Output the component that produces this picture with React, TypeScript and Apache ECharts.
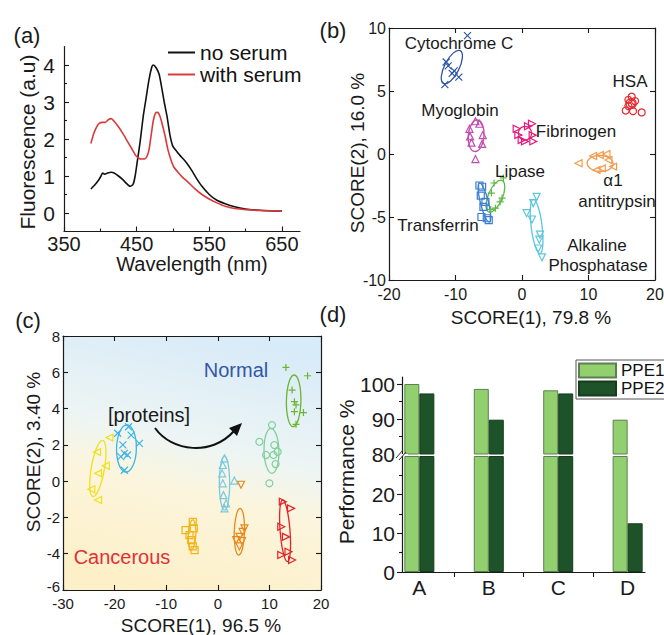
import React, { useEffect, useRef } from 'react';
import * as echarts from 'echarts';

const FONT = '"Liberation Sans", Arial, Helvetica, sans-serif';
const INK = '#1a1a1a';

// ---------------- (a) fluorescence spectra ----------------
const noSerum: number[][] = [
  [387, 0.65], [392, 0.75], [398, 0.9], [401, 1.0], [403, 1.08], [406, 1.05], [410, 1.08], [415, 1.1],
  [419, 1.08], [425, 1.0], [431, 0.9], [437, 0.78], [441, 0.72], [445, 0.77], [448, 1.0], [451, 1.4],
  [455, 1.95], [459, 2.6], [463, 3.1], [467, 3.6], [471, 3.95], [473, 4.0], [477, 3.92], [481, 3.75],
  [484, 3.45], [488, 3.0], [492, 2.6], [496, 2.1], [500, 1.8], [505, 1.67], [510, 1.55], [517, 1.4],
  [525, 1.18], [532, 0.95], [540, 0.72], [550, 0.5], [560, 0.35], [572, 0.25], [585, 0.17], [600, 0.11],
  [615, 0.08], [630, 0.06], [650, 0.05],
];
const withSerum: number[][] = [
  [387, 1.88], [391, 2.15], [395, 2.33], [399, 2.43], [403, 2.45], [407, 2.45], [411, 2.52], [415, 2.55],
  [419, 2.48], [425, 2.33], [431, 2.15], [437, 1.95], [443, 1.75], [449, 1.55], [453, 1.48], [457, 1.46],
  [461, 1.46], [464, 1.52], [467, 1.7], [470, 2.1], [473, 2.5], [476, 2.7], [479, 2.72], [482, 2.62],
  [485, 2.42], [489, 2.1], [493, 1.72], [497, 1.45], [501, 1.25], [507, 1.1], [513, 0.97], [520, 0.85],
  [530, 0.66], [540, 0.5], [550, 0.38], [560, 0.28], [572, 0.18], [585, 0.12], [600, 0.09], [620, 0.07],
  [650, 0.05],
];
const wavelengthTicks = [350, 450, 550, 650];
const wavelengthMinorTicks = [400, 500, 600];
const fluorescenceTicks = [0, 1, 2, 3, 4];
const fluorescenceMinorTicks = [0.5, 1.5, 2.5, 3.5];

// ---------------- (b) protein PCA scores ----------------
const cytochromeC = [[-8.2, 9.4], [-11.4, 7.3], [-11.1, 7.0], [-10.2, 6.6], [-9.5, 6.1], [-11.6, 5.5], [-10.5, 6.4]];
const myoglobin = [[-7.0, 2.6], [-7.9, 2.0], [-7.8, 1.4], [-6.4, 2.4], [-5.9, 1.5], [-6.0, 0.8], [-7.0, -0.4], [-7.6, 0.9]];
const fibrinogen = [[1.5, 2.4], [0.9, 2.2], [-0.8, 2.0], [-0.55, 1.5], [-0.05, 1.1], [0.45, 1.0], [1.7, 1.0], [1.6, 1.5]];
const hsa = [[16.5, 4.55], [16.0, 4.3], [17.0, 4.2], [16.5, 4.0], [15.6, 3.45], [16.7, 3.4], [18.0, 3.3], [16.0, 3.8]];
const antitrypsin = [[8.5, -0.74], [10.7, -0.16], [11.7, -0.08], [12.7, 0.0], [13.0, -0.48], [11.2, -1.27], [12.0, -1.14], [13.7, -1.0]];
const lipase = [[-2.8, -1.9], [-4.2, -2.3], [-4.6, -3.1], [-3.0, -3.5], [-3.3, -3.8], [-4.7, -4.4], [-4.0, -4.3]];
const transferrin = [[-6.4, -2.5], [-6.0, -2.6], [-5.5, -3.8], [-5.8, -4.2], [-6.1, -5.0], [-5.0, -5.25], [-5.3, -5.1], [-6.2, -3.3]];
const alkalinePhosphatase = [[2.2, -3.4], [1.7, -3.9], [0.7, -4.7], [1.5, -5.2], [2.7, -6.4], [2.6, -6.8], [2.45, -7.5], [3.0, -8.2]];
// confidence ellipses: major-axis end points (x1, y1, x2, y2) and minor/major ratio
const cytochromeCEllipse = [-9.3, 8.2, -11.8, 5.6, 0.4];
const myoglobinEllipse = [-6.7, 2.7, -7.1, 0.2, 0.5];
const fibrinogenEllipse = [0.45, 2.2, 0.45, 1.1, 0.95];
const hsaEllipse = [16.4, 4.4, 16.4, 3.6, 1.0];
const antitrypsinEllipse = [9.8, -0.7, 13.7, -0.8, 0.62];
const lipaseEllipse = [-3.0, -2.1, -5.0, -4.6, 0.42];
const transferrinEllipse = [-6.4, -2.3, -4.9, -5.4, 0.2];
const alkalineEllipse = [1.7, -3.6, 2.7, -7.9, 0.2];
const scoreBXTicks = [-20, -10, 0, 10, 20];
const scoreBYTicks = [-10, -5, 0, 5, 10];

// ---------------- (c) serum PCA scores ----------------
const serum1 = [[-21.0, 2.4], [-23.4, 1.6], [-21.7, 0.85], [-23.2, 0.43], [-24.5, -0.45], [-23.2, -1.04]];
const serum2 = [[-17.3, 3.0], [-19.4, 2.64], [-16.8, 2.54], [-18.4, 2.0], [-15.2, 2.08], [-18.1, 1.53], [-18.8, 1.35], [-17.5, 1.44], [-18.1, 0.6]];
const serum3 = [[-4.85, -2.24], [-4.65, -2.6], [-6.25, -2.7], [-5.48, -2.97], [-5.15, -3.25], [-4.85, -3.6], [-4.5, -3.8]];
const serum4 = [[1.3, 1.26], [0.96, 0.89], [0.84, 0.43], [0.96, -0.12], [1.1, -0.77], [1.6, -1.22], [1.3, -1.5], [3.2, 0.03]];
const serum5 = [[4.5, -0.2], [5.16, -2.6], [4.8, -2.8], [4.2, -3.07], [3.56, -3.25], [4.2, -3.6], [4.7, -3.3]];
const serum6 = [[10.5, 3.09], [8.06, 2.17], [10.96, 1.99], [11.6, 1.62], [10.8, 1.44], [9.35, 1.44], [11.2, 0.94], [10.0, -0.12]];
const serum7 = [[12.6, -1.13], [14.2, -1.5], [12.3, -2.51], [13.2, -3.07], [13.7, -3.89], [12.3, -4.07], [14.4, -4.35]];
const serum8 = [[13.2, 6.27], [17.4, 5.81], [14.4, 5.02], [14.85, 4.38], [15.16, 4.2], [14.85, 3.83], [16.6, 3.78], [15.16, 3.13]];
const serum1Ellipse = [-22.3, 2.25, -24.2, -0.85, 0.23];
const serum2Ellipse = [-17.6, 3.1, -17.8, 0.5, 0.42];
const serum3Ellipse = [-4.85, -2.14, -5.15, -3.8, 0.25];
const serum4Ellipse = [1.3, 1.38, 1.3, -1.6, 0.19];
const serum5Ellipse = [4.33, -1.5, 4.05, -4.07, 0.22];
const serum6Ellipse = [10.3, 2.91, 10.5, 0.43, 0.33];
const serum7Ellipse = [12.57, -1.04, 13.5, -4.44, 0.16];
const serum8Ellipse = [14.8, 5.85, 14.6, 3.0, 0.28];
const scoreCXTicks = [-30, -20, -10, 0, 10, 20];
const scoreCYTicks = [-6, -4, -2, 0, 2, 4, 6, 8];

// ---------------- (d) performance ----------------
const methods = ['A', 'B', 'C', 'D'];
const ppe1 = [100, 98.6, 98.2, 89.8];
const ppe2 = [97.3, 89.8, 97.3, 12.6];
const perfUpperTicks = [80, 90, 100];
const perfUpperMinor = [85, 95];
const perfLowerTicks = [0, 10, 20];
const perfLowerMinor = [5, 15, 25];
const methodPositions = [0, 1, 2, 3];
const methodBoundaries = [0.5, 1.5, 2.5];

const X_SYMBOL = 'path://M0,0L10,10M10,0L0,10';
const PLUS_SYMBOL = 'path://M5,0L5,10M0,5L10,5';

const proteinGroups = [
  { pts: cytochromeC, ell: cytochromeCEllipse, color: '#2f56a6', symbol: X_SYMBOL, rotate: 0 },
  { pts: myoglobin, ell: myoglobinEllipse, color: '#c24cae', symbol: 'triangle', rotate: 0 },
  { pts: fibrinogen, ell: fibrinogenEllipse, color: '#e41b7e', symbol: 'triangle', rotate: -90 },
  { pts: hsa, ell: hsaEllipse, color: '#e8282c', symbol: 'circle', rotate: 0 },
  { pts: antitrypsin, ell: antitrypsinEllipse, color: '#f39a4c', symbol: 'triangle', rotate: 90 },
  { pts: lipase, ell: lipaseEllipse, color: '#5db843', symbol: PLUS_SYMBOL, rotate: 0 },
  { pts: transferrin, ell: transferrinEllipse, color: '#3b7ecf', symbol: 'rect', rotate: 0 },
  { pts: alkalinePhosphatase, ell: alkalineEllipse, color: '#5dc7da', symbol: 'triangle', rotate: 180 },
];

const serumGroups = [
  { pts: serum1, ell: serum1Ellipse, color: '#efe01c', symbol: 'triangle', rotate: 90 },
  { pts: serum2, ell: serum2Ellipse, color: '#3db5e6', symbol: X_SYMBOL, rotate: 0 },
  { pts: serum3, ell: serum3Ellipse, color: '#f2b416', symbol: 'rect', rotate: 0 },
  { pts: serum4, ell: serum4Ellipse, color: '#79cadf', symbol: 'triangle', rotate: 0 },
  { pts: serum5, ell: serum5Ellipse, color: '#e8891d', symbol: 'triangle', rotate: 180 },
  { pts: serum6, ell: serum6Ellipse, color: '#80cf9b', symbol: 'circle', rotate: 0 },
  { pts: serum7, ell: serum7Ellipse, color: '#e32229', symbol: 'triangle', rotate: -90 },
  { pts: serum8, ell: serum8Ellipse, color: '#6cb530', symbol: PLUS_SYMBOL, rotate: 0 },
];

function mkAxis(p: any) {
  return {
    type: 'value',
    gridIndex: p.grid,
    position: p.position,
    min: p.min,
    max: p.max,
    axisLine: { show: p.line !== false, onZero: false, lineStyle: { color: INK, width: 1.2 } },
    axisTick: p.ticks
      ? { show: true, inside: p.inside !== false, length: p.tickLen ?? 5, customValues: p.ticks, lineStyle: { color: INK, width: 1.1 } }
      : { show: false },
    axisLabel: p.labels
      ? {
          show: true, customValues: p.labels, fontSize: p.fontSize, margin: p.margin, color: INK, fontFamily: FONT,
          formatter: p.formatter, lineHeight: p.lineHeight, rich: p.rich,
        }
      : { show: false },
    splitLine: { show: false },
    minorTick: { show: false },
  };
}

function ellipseRender(color: string) {
  return (_params: any, api: any) => {
    const p1 = api.coord([api.value(0), api.value(1)]);
    const p2 = api.coord([api.value(2), api.value(3)]);
    const ratio = api.value(4);
    const dx = p2[0] - p1[0];
    const dy = p2[1] - p1[1];
    const a = Math.sqrt(dx * dx + dy * dy) / 2;
    return {
      type: 'ellipse',
      x: (p1[0] + p2[0]) / 2,
      y: (p1[1] + p2[1]) / 2,
      rotation: -Math.atan2(dy, dx),
      shape: { cx: 0, cy: 0, rx: a, ry: a * ratio },
      style: { fill: 'none', stroke: color, lineWidth: 1.3 },
      silent: true,
    };
  };
}

function groupSeries(g: any, xi: number, yi: number) {
  return [
    {
      type: 'custom', coordinateSystem: 'cartesian2d', xAxisIndex: xi, yAxisIndex: yi,
      data: [g.ell], renderItem: ellipseRender(g.color), silent: true, clip: false, z: 2,
    },
    {
      type: 'scatter', xAxisIndex: xi, yAxisIndex: yi, data: g.pts, symbol: g.symbol, symbolSize: 7,
      symbolRotate: g.rotate, itemStyle: { color: 'none', borderColor: g.color, borderWidth: 1.2, opacity: 1 },
      silent: true, z: 3,
    },
  ];
}

function txt(text: string, x: number, y: number, fontSize: number, fill = INK, rotation = 0) {
  return {
    type: 'text', x, y, rotation, z: 20, silent: true,
    style: { text, fill, fontSize, fontFamily: FONT, align: 'center', verticalAlign: 'middle' },
  };
}

export default function App() {
  const ref = useRef<HTMLDivElement>(null);
  useEffect(() => {
    if (!ref.current) return;
    const chart = echarts.init(ref.current, undefined, { renderer: 'svg' });

    const grids = [
      { left: 64, top: 46.5, width: 236, height: 185 },
      { left: 389, top: 28, width: 266, height: 252 },
      {
        left: 63, top: 336, width: 258, height: 254, show: true, borderWidth: 0,
        backgroundColor: new echarts.graphic.LinearGradient(0.62, 0, 0.38, 1, [
          { offset: 0, color: '#d8ebf8' },
          { offset: 0.42, color: '#edf5f4' },
          { offset: 0.62, color: '#fcf5dc' },
          { offset: 1, color: '#fdf0c8' },
        ]),
      },
      { left: 402, top: 377, width: 243, height: 77 },
      { left: 402, top: 456, width: 243, height: 116 },
    ].map((g) => ({ show: false, containLabel: false, outerBoundsMode: 'none', ...g }));

    const xAxis = [
      mkAxis({ grid: 0, position: 'bottom', min: 350, max: 675, ticks: wavelengthTicks, labels: wavelengthTicks, fontSize: 20, lineHeight: 15, margin: 5 }),
      mkAxis({ grid: 0, position: 'bottom', min: 350, max: 675, line: false, ticks: wavelengthMinorTicks, tickLen: 3 }),
      mkAxis({ grid: 1, position: 'bottom', min: -20, max: 20, ticks: scoreBXTicks, labels: scoreBXTicks, fontSize: 16, margin: 6 }),
      mkAxis({ grid: 1, position: 'top', min: -20, max: 20, ticks: scoreBXTicks }),
      mkAxis({ grid: 2, position: 'bottom', min: -30, max: 20, ticks: scoreCXTicks, labels: scoreCXTicks, fontSize: 15, lineHeight: 11, margin: 8 }),
      mkAxis({ grid: 2, position: 'top', min: -30, max: 20, ticks: scoreCXTicks }),
      mkAxis({ grid: 3, position: 'bottom', min: -0.25, max: 3.25, line: false }),
      mkAxis({
        grid: 4, position: 'bottom', min: -0.25, max: 3.25, ticks: methodBoundaries, inside: false,
        labels: methodPositions, fontSize: 21, margin: 5, formatter: (v: number) => methods[Math.round(v)],
      }),
    ];
    const yAxis = [
      mkAxis({ grid: 0, position: 'left', min: -0.5, max: 4.5, ticks: fluorescenceTicks, labels: fluorescenceTicks, fontSize: 21, margin: 9 }),
      mkAxis({ grid: 0, position: 'left', min: -0.5, max: 4.5, line: false, ticks: fluorescenceMinorTicks, tickLen: 3 }),
      mkAxis({ grid: 1, position: 'left', min: -10, max: 10, ticks: scoreBYTicks, labels: scoreBYTicks, fontSize: 16, margin: 3 }),
      mkAxis({ grid: 1, position: 'right', min: -10, max: 10, ticks: scoreBYTicks }),
      mkAxis({
        grid: 2, position: 'left', min: -6, max: 8, ticks: scoreCYTicks, labels: scoreCYTicks, fontSize: 15, lineHeight: 11, margin: 3,
        formatter: (v: number) => (v === scoreCYTicks[0] ? `{lift|${v}}` : String(v)),
        rich: { lift: { fontSize: 15, fontFamily: FONT, color: INK, padding: [0, 0, 8, 0] } },
      }),
      mkAxis({ grid: 2, position: 'right', min: -6, max: 8, ticks: scoreCYTicks }),
      mkAxis({ grid: 3, position: 'left', min: 80, max: 102, ticks: perfUpperTicks, inside: false, labels: perfUpperTicks, fontSize: 21, margin: 7 }),
      mkAxis({ grid: 3, position: 'left', min: 80, max: 102, line: false, ticks: perfUpperMinor, inside: false, tickLen: 3 }),
      mkAxis({ grid: 4, position: 'left', min: 0, max: 30, ticks: perfLowerTicks, inside: false, labels: perfLowerTicks, fontSize: 21, margin: 7 }),
      mkAxis({ grid: 4, position: 'left', min: 0, max: 30, line: false, ticks: perfLowerMinor, inside: false, tickLen: 3 }),
    ];

    const barCommon = { type: 'bar', barWidth: 15, barGap: '0%', clip: true, silent: true };
    const ppe1Style = { color: '#92cf6e', borderColor: '#5e7f52', borderWidth: 1 };
    const ppe2Style = { color: '#1e5228', borderColor: '#163c1d', borderWidth: 1 };

    const series: any[] = [
      {
        type: 'line', name: 'no serum', xAxisIndex: 0, yAxisIndex: 0, data: noSerum, showSymbol: false, symbol: 'none',
        smooth: 0.2, lineStyle: { color: '#111111', width: 1.6 }, itemStyle: { color: '#111111' }, silent: true,
      },
      {
        type: 'line', name: 'with serum', xAxisIndex: 0, yAxisIndex: 0, data: withSerum, showSymbol: false, symbol: 'none',
        smooth: 0.2, lineStyle: { color: '#d83a3c', width: 1.6 }, itemStyle: { color: '#d83a3c' }, silent: true,
      },
      ...proteinGroups.flatMap((g) => groupSeries(g, 2, 2)),
      ...serumGroups.flatMap((g) => groupSeries(g, 4, 4)),
      { ...barCommon, name: 'PPE1', xAxisIndex: 6, yAxisIndex: 6, itemStyle: ppe1Style,
        data: ppe1.map((v, i) => [i, v]).filter((d) => d[1] >= 80) },
      { ...barCommon, name: 'PPE2', xAxisIndex: 6, yAxisIndex: 6, itemStyle: ppe2Style,
        data: ppe2.map((v, i) => [i, v]).filter((d) => d[1] >= 80) },
      { ...barCommon, name: 'PPE1', xAxisIndex: 7, yAxisIndex: 8, itemStyle: ppe1Style,
        data: ppe1.map((v, i) => [i, Math.min(v, 30)]) },
      { ...barCommon, name: 'PPE2', xAxisIndex: 7, yAxisIndex: 8, itemStyle: ppe2Style,
        data: ppe2.map((v, i) => [i, Math.min(v, 30)]) },
    ];

    const graphic: any[] = [
      txt('(a)', 27, 35, 22),
      txt('(b)', 333, 30, 22),
      txt('(c)', 28, 320, 22),
      txt('(d)', 333, 314, 22),
      txt('Fluorescence (a.u)', 27, 142, 21, INK, Math.PI / 2),
      txt('Wavelength (nm)', 192, 264, 20),
      txt('SCORE(2), 16.0 %', 357, 153, 19, INK, Math.PI / 2),
      txt('SCORE(1), 79.8 %', 531, 317, 19),
      txt('SCORE(2), 3.40 %', 33, 452, 19, INK, Math.PI / 2),
      txt('SCORE(1), 96.5 %', 201, 625, 19),
      txt('Performance %', 346, 472, 21, INK, Math.PI / 2),
      txt('Cytochrome C', 459, 43.5, 17),
      txt('HSA', 630, 81, 17),
      txt('Myoglobin', 460, 110, 17),
      txt('Fibrinogen', 576, 131, 17),
      txt('Lipase', 520, 171, 17),
      txt('α1', 613, 180, 17),
      txt('antitrypsin', 617, 201, 17),
      txt('Transferrin', 438, 225, 17),
      txt('Alkaline', 597, 245.5, 17),
      txt('Phosphatase', 598, 265.5, 17),
      txt('Normal', 236, 370, 20, '#3457a6'),
      txt('[proteins]', 149, 415, 20),
      txt('Cancerous', 122, 557, 20, '#e0303a'),
      {
        type: 'bezierCurve', z: 20, silent: true,
        shape: { x1: 155, y1: 428, cpx1: 172, cpy1: 452, cpx2: 212, cpy2: 456, x2: 234, y2: 431 },
        style: { stroke: '#111', lineWidth: 2, fill: 'none' },
      },
      {
        type: 'polygon', z: 20, silent: true,
        shape: { points: [[242, 423], [229, 428], [237, 436]] },
        style: { fill: '#111' },
      },
      { type: 'rect', z: 19, silent: true, shape: { x: 396, y: 454, width: 12, height: 2 }, style: { fill: '#fff' } },
      { type: 'line', z: 20, silent: true, shape: { x1: 396, y1: 458, x2: 403, y2: 450 }, style: { stroke: '#333', lineWidth: 1 } },
      { type: 'line', z: 20, silent: true, shape: { x1: 399, y1: 460, x2: 406, y2: 452 }, style: { stroke: '#333', lineWidth: 1 } },
    ];

    chart.setOption({
      animation: false,
      backgroundColor: '#ffffff',
      textStyle: { fontFamily: FONT },
      grid: grids,
      xAxis,
      yAxis,
      legend: [
        {
          data: ['no serum', 'with serum'], left: 168, top: 42, orient: 'vertical', icon: 'rect',
          itemWidth: 27, itemHeight: 2, itemGap: 1, padding: 0, selectedMode: false,
          textStyle: { fontSize: 21, lineHeight: 21, color: '#111', fontFamily: FONT },
        },
        {
          data: ['PPE1', 'PPE2'], left: 576, top: 360, orient: 'vertical', icon: 'rect',
          itemWidth: 37, itemHeight: 14, itemGap: 1, padding: [2, 12, 2, 2], selectedMode: false,
          borderColor: '#555', borderWidth: 1,
          textStyle: { fontSize: 17, lineHeight: 16, color: '#111', fontFamily: FONT },
        },
      ],
      series,
      graphic,
    });
    return () => chart.dispose();
  }, []);
  return (
    <div
      ref={ref}
      style={{ position: 'fixed', left: 0, top: 0, width: 664, height: 635, background: '#fff' }}
    />
  );
}
